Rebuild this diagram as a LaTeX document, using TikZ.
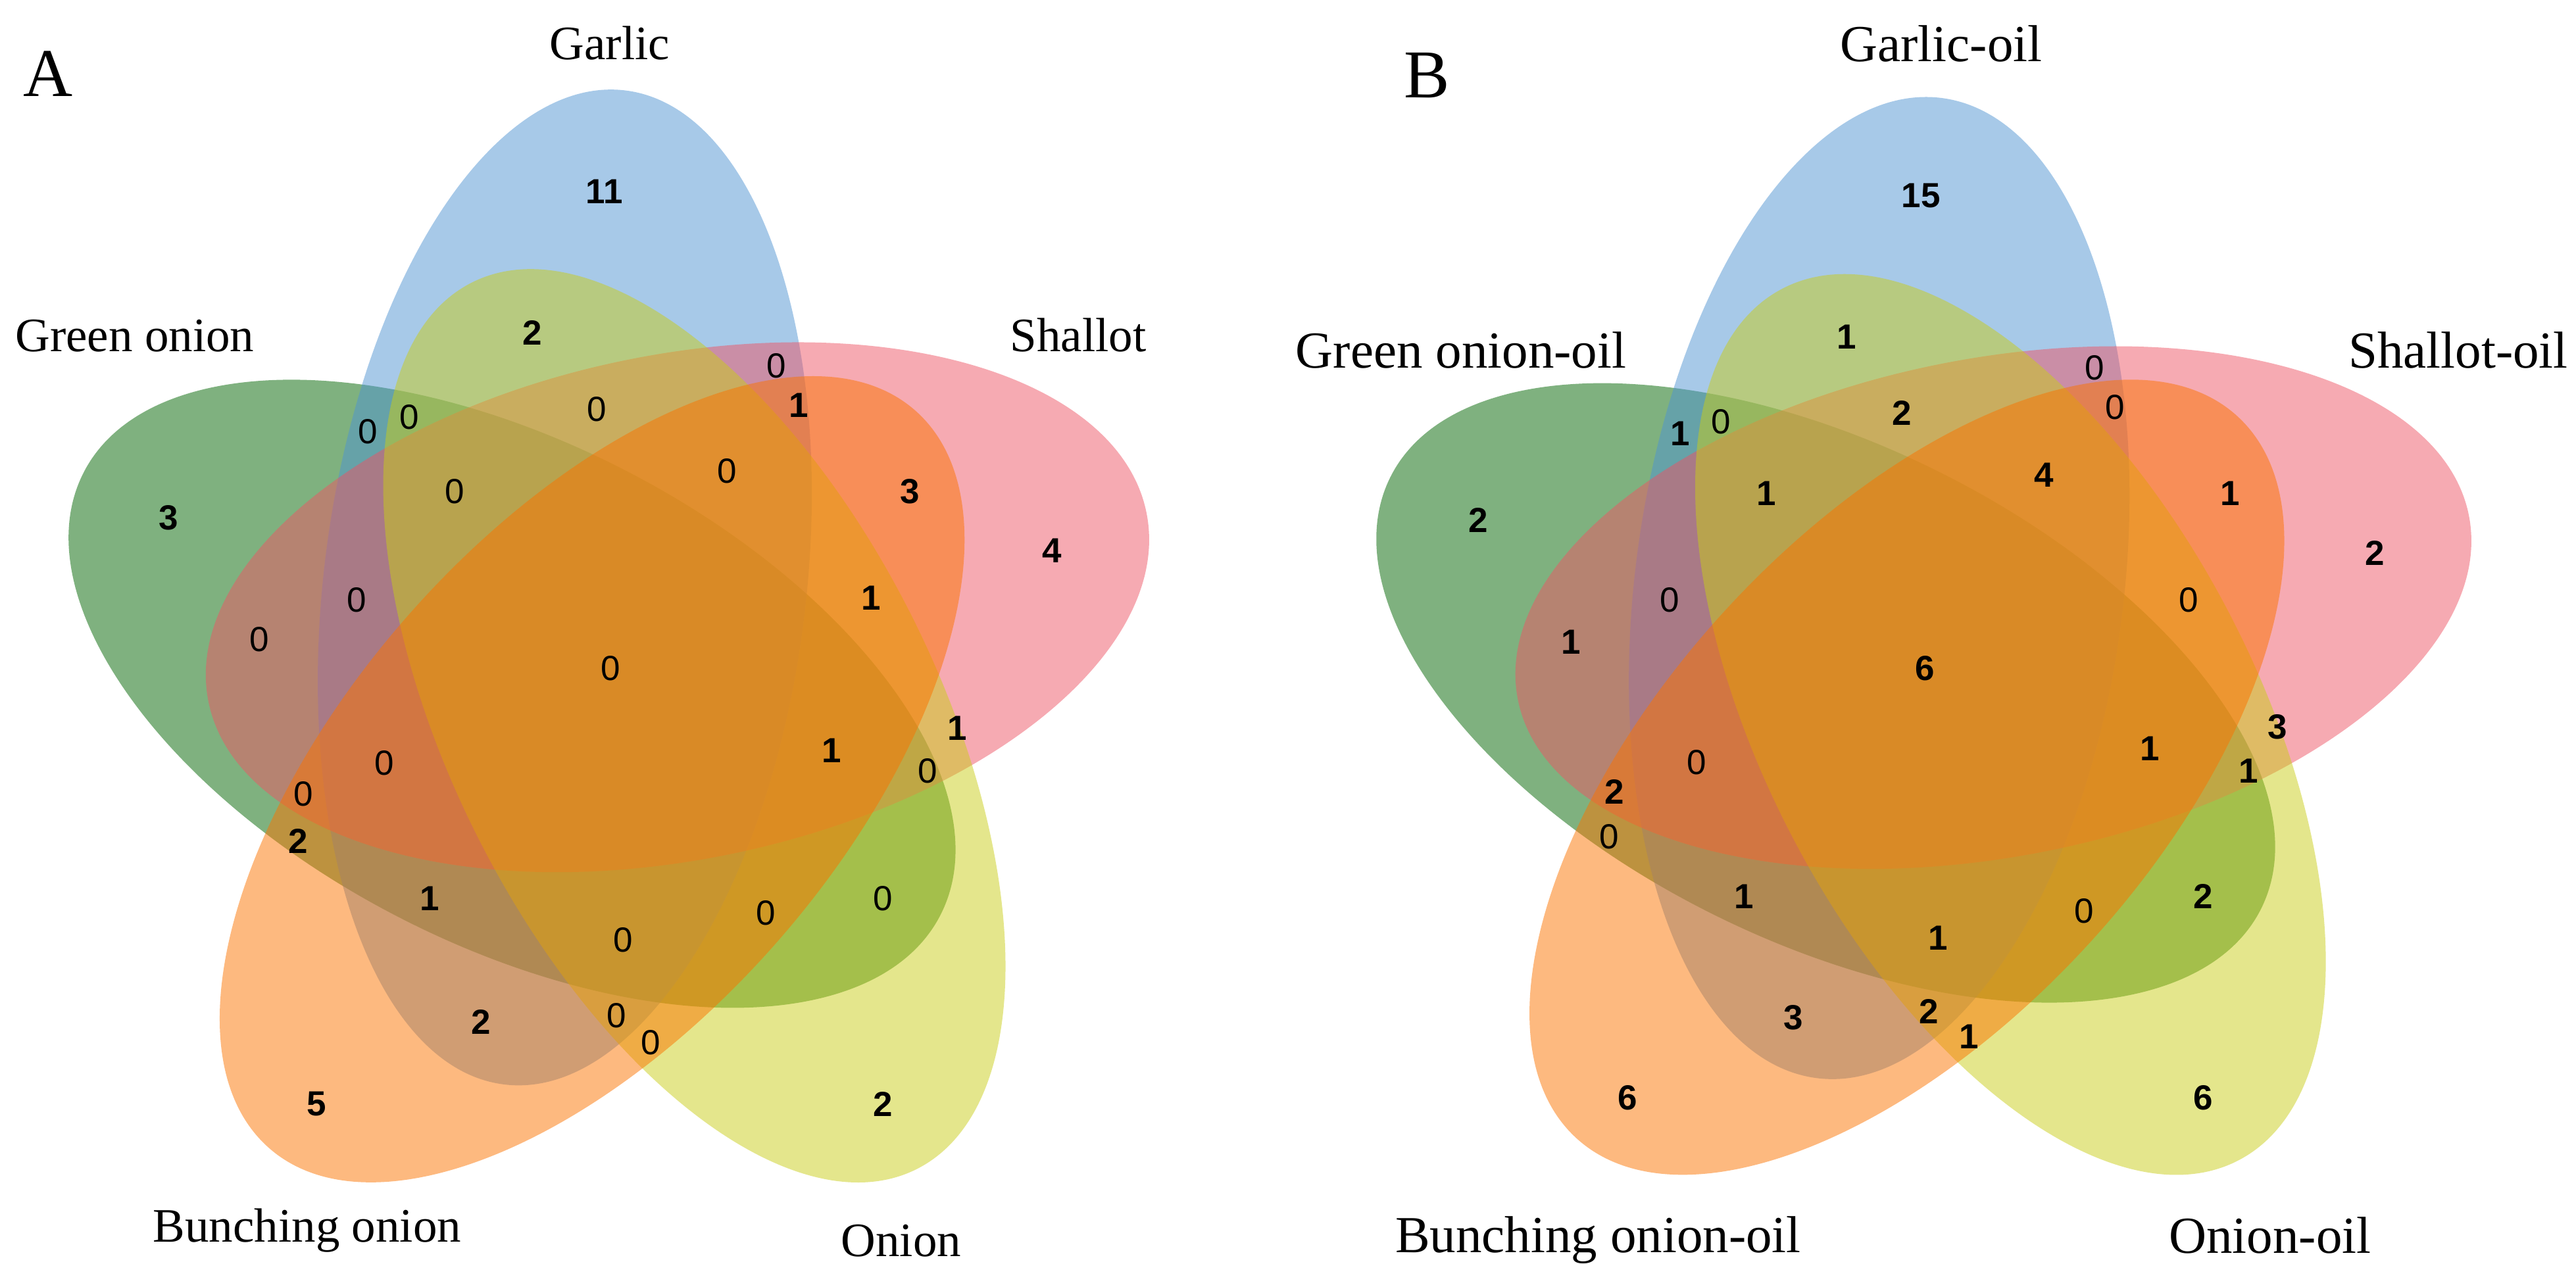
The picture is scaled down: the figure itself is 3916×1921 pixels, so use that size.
\documentclass[tikz,border=0pt]{standalone}
\usepackage{fontspec}
\setmainfont{Liberation Serif}
\newfontfamily\arialf{Liberation Sans}
\definecolor{cgreen}{RGB}{0,100,0}
\definecolor{cblue}{RGB}{79,147,209}
\definecolor{cred}{RGB}{237,85,101}
\definecolor{cyellow}{RGB}{201,205,25}
\definecolor{corange}{RGB}{251,115,0}
\tikzset{
  nz/.style={font=\arialf\bfseries\fontsize{13.25pt}{14pt}\selectfont, inner sep=0pt},
  zr/.style={font=\arialf\fontsize{13.25pt}{14pt}\selectfont, inner sep=0pt},
  labA/.style={font=\fontsize{18.25pt}{20pt}\selectfont, inner sep=0pt, anchor=base},
  labB/.style={font=\fontsize{19.75pt}{22pt}\selectfont, inner sep=0pt, anchor=base},
  panel/.style={font=\fontsize{26pt}{30pt}\selectfont, inner sep=0pt, anchor=base},
  setfill/.style={fill=#1, fill opacity=0.5},
}
\begin{document}
\begin{tikzpicture}[x=0.25pt, y=0.25pt]
\useasboundingbox (0,0) rectangle (3916,1921);
% ---------- Panel A ellipses
\begin{scope}[shift={(924.5,889)}, xscale=0.972, yscale=1.02]
  \foreach \k/\col in {0/cgreen,1/cblue,2/cred,3/cyellow,4/corange}{
    \fill[setfill=\col, rotate=-72*\k, shift={(188.5:152)}, rotate=-25.5]
      (0,0) ellipse [x radius=186.75pt, y radius=94.25pt];
  }
\end{scope}
% ---------- Panel B ellipses
\begin{scope}[shift={(2923.5,890)}, xscale=0.985, yscale=1.006]
  \foreach \k/\col in {0/cgreen,1/cblue,2/cred,3/cyellow,4/corange}{
    \fill[setfill=\col, rotate=-72*\k, shift={(188.5:152)}, rotate=-25.5]
      (0,0) ellipse [x radius=186.75pt, y radius=94.25pt];
  }
\end{scope}
% ---------- Panel A labels
\node[panel] (pA) at (73,1774) {A};
\node[labA] (lGarlic) at (927,1830) {Garlic};
\node[labA] (lGreen) at (205,1387) {Green onion};
\node[labA] (lShallot) at (1639,1387) {Shallot};
\node[labA] (lBunch) at (467,33) {Bunching onion};
\node[labA] (lOnion) at (1370,11) {Onion};
% ---------- Panel A numbers
\node[nz] (a1) at (919,1630) {11};
\node[nz] (a2) at (809,1415) {2};
\node[zr] (a3) at (559,1265) {0};
\node[zr] (a4) at (622,1287) {0};
\node[zr] (a5) at (907,1299) {0};
\node[nz] (a6) at (256,1134) {3};
\node[zr] (a7) at (691,1174) {0};
\node[zr] (a8) at (542,1009) {0};
\node[zr] (a9) at (394,949) {0};
\node[zr] (a10) at (1180,1365) {0};
\node[nz] (a11) at (1214,1305) {1};
\node[zr] (a12) at (1105,1205) {0};
\node[nz] (a13) at (1383,1174) {3};
\node[nz] (a14) at (1599,1084) {4};
\node[nz] (a15) at (1324,1012) {1};
\node[zr] (a16) at (928,905) {0};
\node[zr] (a17) at (584,761) {0};
\node[zr] (a18) at (461,714) {0};
\node[nz] (a19) at (453,642) {2};
\node[nz] (a20) at (653,555) {1};
\node[zr] (a21) at (947,492) {0};
\node[nz] (a22) at (731,367) {2};
\node[zr] (a23) at (937,377) {0};
\node[zr] (a24) at (989,336) {0};
\node[nz] (a25) at (481,242) {5};
\node[nz] (a26) at (1455,814) {1};
\node[nz] (a27) at (1264,780) {1};
\node[zr] (a28) at (1410,749) {0};
\node[zr] (a29) at (1342,555) {0};
\node[zr] (a30) at (1164,533) {0};
\node[nz] (a31) at (1342,242) {2};
% ---------- Panel B labels
\node[panel] (pB) at (2169.5,1772) {B};
\node[labB] (mGarlic) at (2951,1827) {Garlic-oil};
\node[labB] (mGreen) at (2221,1362) {Green onion-oil};
\node[labB] (mShallot) at (3737,1362) {Shallot-oil};
\node[labB] (mBunch) at (2429.5,17) {Bunching onion-oil};
\node[labB] (mOnion) at (3451,16) {Onion-oil};
% ---------- Panel B numbers
\node[nz] (b1) at (2920,1623) {15};
\node[nz] (b2) at (2807,1409) {1};
\node[nz] (b3) at (2554,1262) {1};
\node[zr] (b4) at (2616,1280) {0};
\node[nz] (b5) at (2891,1293) {2};
\node[nz] (b6) at (2247,1130) {2};
\node[nz] (b7) at (2685,1171) {1};
\node[zr] (b8) at (2538,1009) {0};
\node[nz] (b9) at (2388,945) {1};
\node[zr] (b10) at (3184,1362) {0};
\node[zr] (b11) at (3215,1302) {0};
\node[nz] (b12) at (3107,1199) {4};
\node[nz] (b13) at (3390,1171) {1};
\node[nz] (b14) at (3610,1080) {2};
\node[zr] (b15) at (3327,1009) {0};
\node[nz] (b16) at (2926,905) {6};
\node[zr] (b17) at (2579,762) {0};
\node[nz] (b18) at (2454,717) {2};
\node[zr] (b19) at (2446,649) {0};
\node[nz] (b20) at (2651,558) {1};
\node[nz] (b21) at (2726,374) {3};
\node[nz] (b22) at (2474,252) {6};
\node[nz] (b23) at (2946,495) {1};
\node[nz] (b24) at (2932,383) {2};
\node[nz] (b25) at (2993,345) {1};
\node[nz] (b26) at (3462,816) {3};
\node[nz] (b27) at (3268,783) {1};
\node[nz] (b28) at (3418,749) {1};
\node[nz] (b29) at (3349,558) {2};
\node[zr] (b30) at (3168,536) {0};
\node[nz] (b31) at (3349,252) {6};
\end{tikzpicture}
\end{document}
